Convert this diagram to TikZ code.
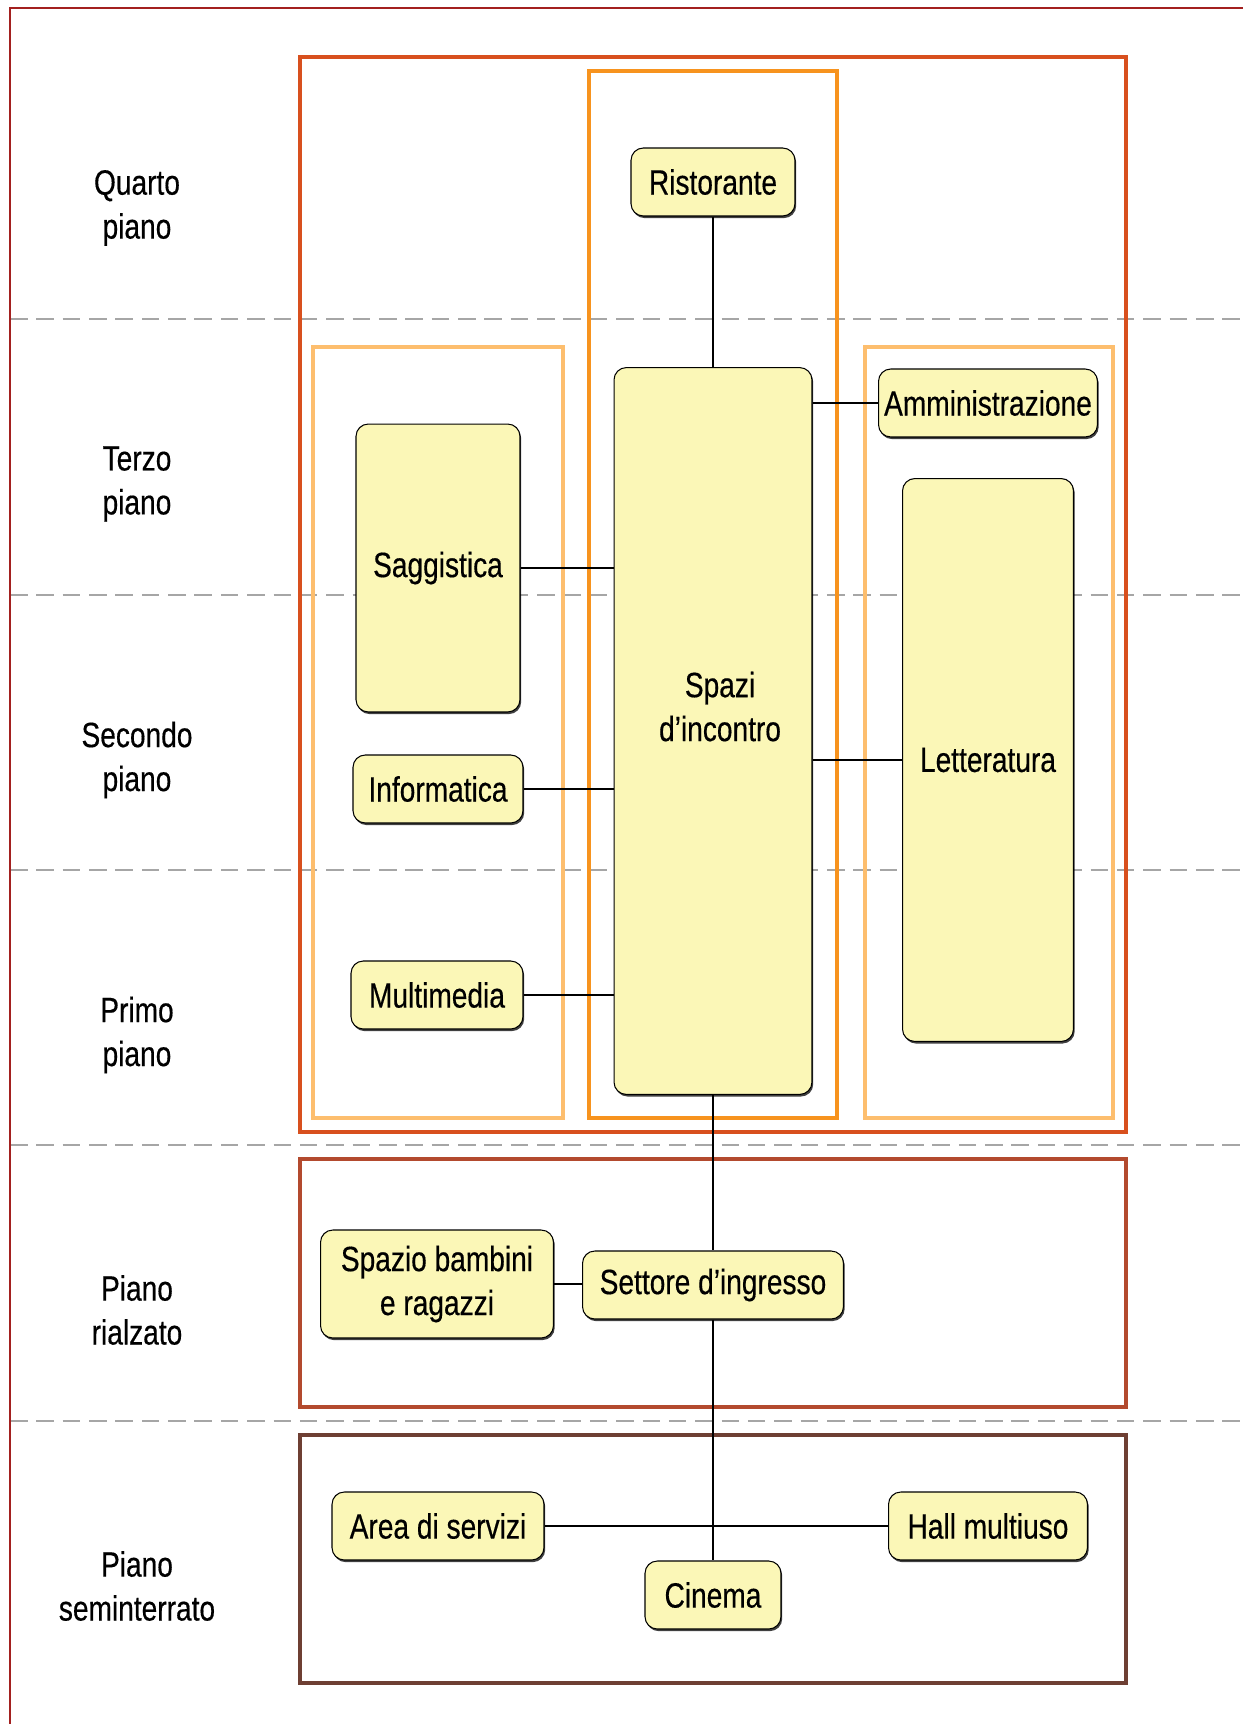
\documentclass[tikz,border=0pt]{standalone}
\usepackage{fontspec}
\setmainfont[FakeStretch=0.8, FakeBold=0.4]{Liberation Sans}
\usepackage{tikz}
\usetikzlibrary{shadows}

\definecolor{pagered}{HTML}{A3201F}
\definecolor{upperzone}{HTML}{D8501E}
\definecolor{corezone}{HTML}{F7931E}
\definecolor{sidezone}{HTML}{FDBE6E}
\definecolor{groundzone}{HTML}{B34A2E}
\definecolor{basezone}{HTML}{6E3F33}
\definecolor{roomfill}{HTML}{FBF7B7}

\begin{document}
\begin{tikzpicture}
                [x=0.02cm, y=-0.02cm,
                every node/.style={font=\fontsize{20}{25}\selectfont},
                room/.style={draw=black, line width=0.6pt, fill=roomfill, rounded corners=7pt,
                        inner sep=0pt, minimum height=1.36cm, align=center,
                        drop shadow={shadow xshift=0.7pt, shadow yshift=-1.2pt, opacity=0.75, fill=black}},
                floorlabel/.style={align=center},
                zone/.style={line width=2pt},
                divider/.style={gray!70, line width=0.6pt, dash pattern=on 10pt off 5pt},
                link/.style={line width=0.8pt}]
                \useasboundingbox (0,0) rectangle (1243,1724);
                % floors
                \foreach \y in {319,595,870,1145,1421}
                \draw[divider] (10,\y) -- (1243,\y);
                \draw[pagered, line width=1.2pt] (10,1740) -- (10,8) -- (1260,8);
                \node[floorlabel] (quarto) at (137,208) {Quarto\\piano};
                \node[floorlabel] (terzo) at (137,484) {Terzo\\piano};
                \node[floorlabel] (secondo) at (137,760) {Secondo\\piano};
                \node[floorlabel] (primo) at (137,1035) {Primo\\piano};
                \node[floorlabel] (rialzato) at (137,1310) {Piano\\rialzato};
                \node[floorlabel] (seminterrato) at (137,1586) {Piano\\seminterrato};
                % zones
                \draw[zone, upperzone] (300,57) rectangle (1126,1132);
                \draw[zone, corezone] (589,71) rectangle (837,1118);
                \draw[zone, sidezone] (313,347) rectangle (563,1118);
                \draw[zone, sidezone] (865,347) rectangle (1113,1118);
                \draw[zone, groundzone] (300,1159) rectangle (1126,1407);
                \draw[zone, basezone] (300,1435) rectangle (1126,1683);
                % rooms
                \node[room, minimum width=3.28cm] (ristorante) at (713,182) {Ristorante};
                \node[room, minimum width=3.96cm, minimum height=14.54cm, text depth=28pt] (spazi) at (713,731) {\hspace{8pt}Spazi\\\hspace{8pt}d’incontro};
                \node[room, minimum width=4.38cm] (amministrazione) at (988,403) {Amministrazione};
                \node[room, minimum width=3.42cm, minimum height=11.26cm] (letteratura) at (988,760) {Letteratura};
                \node[room, minimum width=3.28cm, minimum height=5.76cm] (saggistica) at (438,568) {Saggistica};
                \node[room, minimum width=3.4cm] (informatica) at (438,789) {Informatica};
                \node[room, minimum width=3.44cm] (multimedia) at (437,995) {Multimedia};
                \node[room, minimum width=4.66cm, minimum height=2.16cm] (bambini) at (437,1284) {Spazio bambini\\e ragazzi};
                \node[room, minimum width=5.22cm] (ingresso) at (713,1285) {Settore d’ingresso};
                \node[room, minimum width=4.24cm] (servizi) at (438,1526) {Area di servizi};
                \node[room, minimum width=3.98cm] (hall) at (988,1526) {Hall multiuso};
                \node[room, minimum width=2.72cm] (cinema) at (713,1595) {Cinema};
                % links
                \draw[link] (ristorante) -- (spazi);
                \draw[link] (spazi.east |- amministrazione) -- (amministrazione);
                \draw[link] (spazi.east |- letteratura) -- (letteratura);
                \draw[link] (saggistica) -- (saggistica -| spazi.west);
                \draw[link] (informatica) -- (informatica -| spazi.west);
                \draw[link] (multimedia) -- (multimedia -| spazi.west);
                \draw[link] (spazi) -- (ingresso);
                \draw[link] (bambini) -- (bambini -| ingresso.west);
                \draw[link] (ingresso) -- (cinema);
                \draw[link] (servizi) -- (hall);
            \end{tikzpicture}
\end{document}
